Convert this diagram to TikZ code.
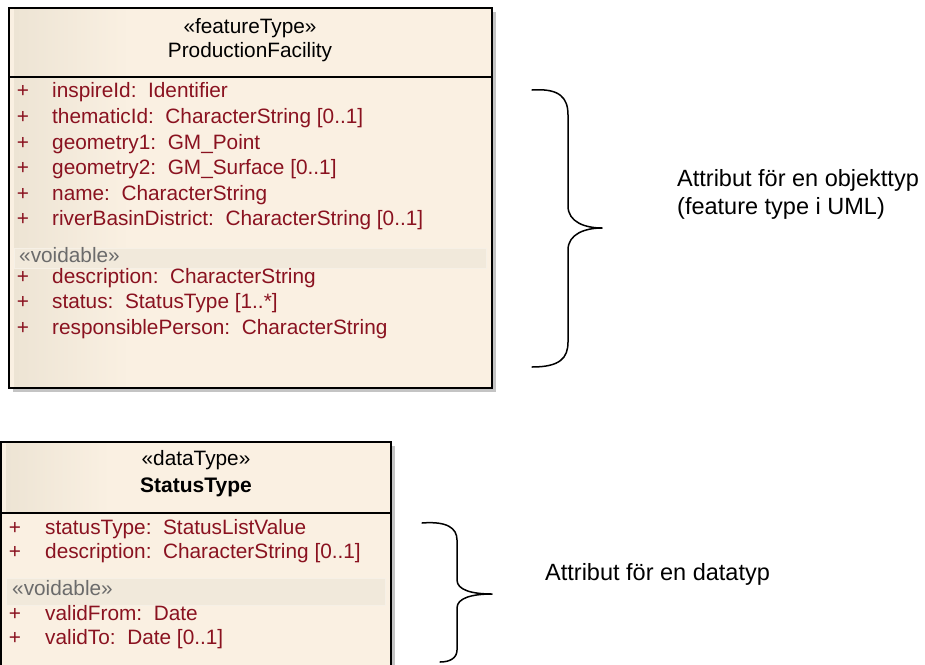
\documentclass[tikz,border=0pt]{standalone}
\usepackage{fontspec}
\setmainfont{Liberation Sans}
\definecolor{umlfill}{RGB}{250,240,226}
\definecolor{umltan}{RGB}{237,228,212}
\definecolor{attrred}{RGB}{138,18,32}
\definecolor{bandfill}{RGB}{241,233,219}
\definecolor{bandline}{RGB}{246,240,230}
\definecolor{shadowgray}{RGB}{196,196,196}
\begin{document}
\begin{tikzpicture}[x=1pt,y=-1pt,
  umltext/.style={inner sep=0pt,font=\fontsize{20.8}{24}\selectfont},
  attr/.style={umltext,anchor=mid west,text=attrred},
  vis/.style={umltext,anchor=mid,text=attrred},
  voidtag/.style={umltext,anchor=mid west,text=black!58},
  title/.style={umltext,anchor=mid,text=black},
  note/.style={inner sep=0pt,anchor=mid west,align=left,
    font=\fontsize{23.5}{28.5}\selectfont},
  brace/.style={line width=1.5pt,line cap=round,line join=round},
  frame/.style={draw=black,line width=1.6pt},
  divider/.style={draw=black,line width=1.2pt},
  band/.style={fill=bandfill,draw=bandline,line width=0.6pt}
]
\clip (0,0) rectangle (925,664);
\fill[white] (0,0) rectangle (925,664);

% ---------- class ProductionFacility ----------
\fill[shadowgray] (13,12) rectangle (496,392);
\fill[umlfill] (9,8) rectangle (492,388);
\shade[left color=umltan,right color=umlfill] (14,8) rectangle (130,388);
\draw[frame] (9,8) rectangle (492,388);
\draw[divider] (9,77) -- (492,77);
\node[title] (pfst) at (250,31) {«featureType»};
\node[title] (pfname) at (250,55) {ProductionFacility};
\fill[band] (14,248) rectangle (486,268);
\node[voidtag] (pfvoid) at (19,260) {«voidable»};
\foreach \y/\t [count=\i] in {
    95/{inspireId:\ \ Identifier},
    121/{thematicId:\ \ CharacterString [0..1]},
    147/{geometry1:\ \ GM\_Point},
    172/{geometry2:\ \ GM\_Surface [0..1]},
    198/{name:\ \ CharacterString},
    223/{riverBasinDistrict:\ \ CharacterString [0..1]},
    281/{description:\ \ CharacterString},
    306/{status:\ \ StatusType [1..*]},
    332/{responsiblePerson:\ \ CharacterString}} {
  \node[vis] (pfplus\i) at (23,\y) {+};
  \node[attr] (pfattr\i) at (52,\y) {\t};
}

% ---------- class StatusType ----------
\fill[shadowgray] (5,446) rectangle (395,700);
\fill[umlfill] (1,442) rectangle (391,700);
\shade[left color=umltan,right color=umlfill] (6,442) rectangle (110,513);
\draw[frame] (1,442) rectangle (391,700);
\draw[divider] (1,513) -- (391,513);
\node[title] (stst) at (196,463) {«dataType»};
\node[title,font=\fontsize{21}{24}\selectfont\bfseries] (stname) at (196,490) {StatusType};
\fill[band] (6,578) rectangle (385,605);
\node[voidtag] (stvoid) at (12,593) {«voidable»};
\foreach \y/\t [count=\i] in {
    532/{statusType:\ \ StatusListValue},
    556/{description:\ \ CharacterString [0..1]},
    618/{validFrom:\ \ Date},
    642/{validTo:\ \ Date [0..1]}} {
  \node[vis] (stplus\i) at (15,\y) {+};
  \node[attr] (stattr\i) at (45,\y) {\t};
}

% ---------- braces and notes ----------
\draw[brace] (532,90) .. controls (560,88) and (568,98) .. (568,115)
  -- (568,206) .. controls (568,222) and (585,228) .. (602,228)
  .. controls (585,228) and (568,234) .. (568,250)
  -- (568,342) .. controls (568,358) and (560,367) .. (532,367);
\node[note] (noteobj) at (677,212) {Attribut för en objekttyp\\(feature type i UML)};

\draw[brace] (422,523) .. controls (447,521) and (457,528) .. (457,540)
  -- (457,580) .. controls (457,590) and (472,594) .. (492,594)
  .. controls (472,594) and (457,598) .. (457,608)
  -- (457,650) .. controls (457,658) and (450,662) .. (440,662);
\node[note] (notedata) at (545,578) {Attribut för en datatyp};
\end{tikzpicture}
\end{document}
